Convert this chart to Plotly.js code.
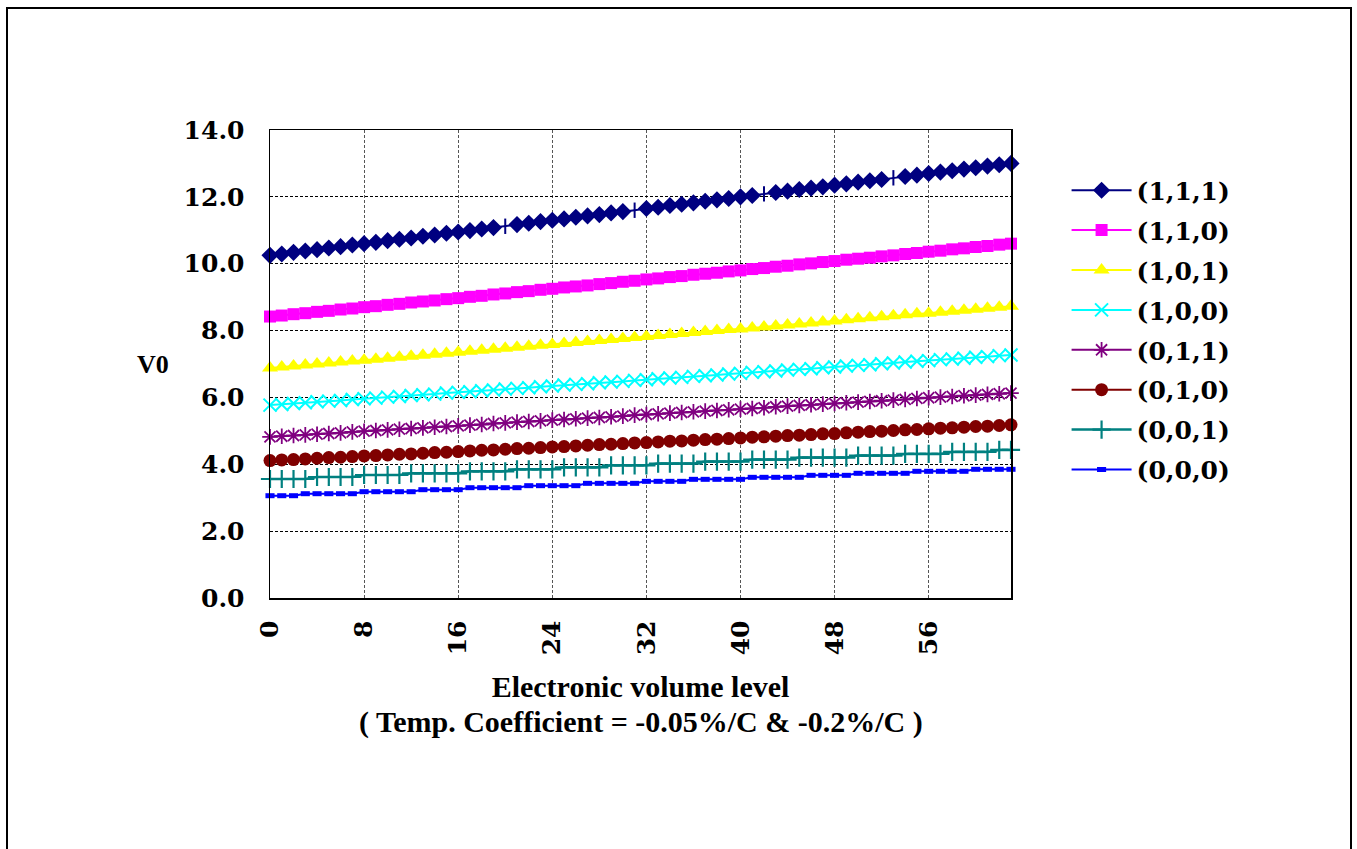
<!DOCTYPE html>
<html><head><meta charset="utf-8">
<script src="https://cdn.plot.ly/plotly-3.0.1.min.js"></script>
<style>
html,body{margin:0;padding:0;background:#fff;overflow:hidden;width:1357px;height:849px;}
#chart{position:absolute;left:0;top:0;width:1357px;height:849px;}
#frame{position:absolute;left:6px;top:7px;width:1342px;height:900px;border:2px solid #000;pointer-events:none;}
</style></head><body>
<div id="chart"></div><div id="frame"></div>
<script>
// Electronic volume level (categories)
const LEVELS = [0,1,2,3,4,5,6,7,8,9,10,11,12,13,14,15,16,17,18,19,20,21,22,23,24,25,26,27,28,29,30,31,
  32,33,34,35,36,37,38,39,40,41,42,43,44,45,46,47,48,49,50,51,52,53,54,55,56,57,58,59,60,61,62,63];

const X_TICKS = [0,8,16,24,32,40,48,56];
const Y_TICKS = [0,2,4,6,8,10,12,14];

// V0 values per (x,y,z) setting
const V_111 = [10.25,10.29,10.34,10.38,10.42,10.47,10.51,10.56,10.60,10.64,
  10.69,10.73,10.77,10.82,10.86,10.91,10.95,10.99,11.04,11.08,
  11.12,11.17,11.21,11.26,11.30,11.34,11.39,11.43,11.47,11.52,
  11.56,11.60,11.65,11.69,11.74,11.78,11.82,11.87,11.91,11.95,
  12.00,12.04,12.09,12.13,12.17,12.22,12.26,12.30,12.35,12.39,
  12.44,12.48,12.52,12.57,12.61,12.65,12.70,12.74,12.78,12.83,
  12.87,12.92,12.96,13.00];
const V_110 = [8.42,8.45,8.49,8.52,8.56,8.59,8.63,8.66,8.70,8.73,
  8.77,8.80,8.84,8.87,8.90,8.94,8.97,9.01,9.04,9.08,
  9.11,9.15,9.18,9.22,9.25,9.29,9.32,9.35,9.39,9.42,
  9.46,9.49,9.53,9.56,9.60,9.63,9.67,9.70,9.73,9.77,
  9.80,9.84,9.87,9.91,9.94,9.98,10.01,10.05,10.08,10.12,
  10.15,10.18,10.22,10.25,10.29,10.32,10.36,10.39,10.43,10.46,
  10.50,10.53,10.57,10.60];
const V_101 = [6.88,6.91,6.94,6.97,7.00,7.03,7.06,7.09,7.11,7.14,
  7.17,7.20,7.23,7.26,7.29,7.32,7.35,7.38,7.41,7.44,
  7.47,7.50,7.53,7.56,7.58,7.61,7.64,7.67,7.70,7.73,
  7.76,7.79,7.82,7.85,7.88,7.91,7.94,7.97,8.00,8.03,
  8.05,8.08,8.11,8.14,8.17,8.20,8.23,8.26,8.29,8.32,
  8.35,8.38,8.41,8.44,8.47,8.50,8.52,8.55,8.58,8.61,
  8.64,8.67,8.70,8.73];
const V_100 = [5.77,5.79,5.82,5.84,5.87,5.89,5.91,5.94,5.96,5.98,
  6.01,6.03,6.06,6.08,6.10,6.13,6.15,6.17,6.20,6.22,
  6.25,6.27,6.29,6.32,6.34,6.37,6.39,6.41,6.44,6.46,
  6.48,6.51,6.53,6.56,6.58,6.60,6.63,6.65,6.67,6.70,
  6.72,6.75,6.77,6.79,6.82,6.84,6.86,6.89,6.91,6.94,
  6.96,6.98,7.01,7.03,7.06,7.08,7.10,7.13,7.15,7.17,
  7.20,7.22,7.25,7.27];
const V_011 = [4.82,4.84,4.86,4.88,4.90,4.92,4.94,4.97,4.99,5.01,
  5.03,5.05,5.07,5.09,5.11,5.13,5.15,5.17,5.19,5.22,
  5.24,5.26,5.28,5.30,5.32,5.34,5.36,5.38,5.40,5.42,
  5.44,5.47,5.49,5.51,5.53,5.55,5.57,5.59,5.61,5.63,
  5.65,5.67,5.69,5.72,5.74,5.76,5.78,5.80,5.82,5.84,
  5.86,5.88,5.90,5.92,5.94,5.97,5.99,6.01,6.03,6.05,
  6.07,6.09,6.11,6.13];
const V_010 = [4.11,4.13,4.14,4.16,4.18,4.20,4.21,4.23,4.25,4.26,
  4.28,4.30,4.31,4.33,4.35,4.36,4.38,4.40,4.42,4.43,
  4.45,4.47,4.48,4.50,4.52,4.53,4.55,4.57,4.59,4.60,
  4.62,4.64,4.65,4.67,4.69,4.70,4.72,4.74,4.75,4.77,
  4.79,4.81,4.82,4.84,4.86,4.87,4.89,4.91,4.92,4.94,
  4.96,4.98,4.99,5.01,5.03,5.04,5.06,5.08,5.09,5.11,
  5.13,5.14,5.16,5.18];
const V_001 = [3.56,3.56,3.56,3.56, 3.62,3.62,3.62,3.62, 3.68,3.68,3.68,3.68,
  3.73,3.73,3.73,3.73,3.73, 3.79,3.79,3.79,3.79, 3.85,3.85,3.85,3.85,
  3.91,3.91,3.91,3.91, 3.97,3.97,3.97,3.97, 4.02,4.02,4.02,4.02,
  4.08,4.08,4.08,4.08, 4.14,4.14,4.14,4.14, 4.20,4.20,4.20,4.20,4.20,
  4.26,4.26,4.26,4.26, 4.31,4.31,4.31,4.31, 4.37,4.37,4.37,4.37, 4.43,4.43];
const V_000 = [3.06,3.06,3.06, 3.12,3.12,3.12,3.12,3.12, 3.18,3.18,3.18,3.18,3.18,
  3.24,3.24,3.24,3.24, 3.30,3.30,3.30,3.30,3.30, 3.36,3.36,3.36,3.36,3.36,
  3.43,3.43,3.43,3.43,3.43, 3.49,3.49,3.49,3.49, 3.55,3.55,3.55,3.55,3.55,
  3.61,3.61,3.61,3.61,3.61, 3.67,3.67,3.67,3.67, 3.73,3.73,3.73,3.73,3.73,
  3.79,3.79,3.79,3.79,3.79, 3.85,3.85,3.85,3.85];

const SERIES_NAMES = ['(1,1,1)','(1,1,0)','(1,0,1)','(1,0,0)','(0,1,1)','(0,1,0)','(0,0,1)','(0,0,0)'];
const SERIES_VALUES = [V_111, V_110, V_101, V_100, V_011, V_010, V_001, V_000];
// points of (1,1,1) drawn with a tick instead of a diamond in the original
const TICK_POINTS_111 = [20,31,42,53];

const X_TITLE = 'Electronic volume level';
const X_SUBTITLE = '( Temp. Coefficient = -0.05%/C &amp; -0.2%/C )';
const Y_TITLE = 'V0';

// styles
const STYLES = [
  {color:'#000080', symbol:'diamond', size:11, lw:0, width:2},
  {color:'#FF00FF', symbol:'square', size:12, lw:0, width:2},
  {color:'#FFFF00', symbol:'triangle-up', size:14, lw:0, width:2},
  {color:'#00FFFF', symbol:'x-thin-open', size:13, lw:2, width:2},
  {color:'#800080', symbol:'asterisk-open', size:13, lw:1.8, width:2},
  {color:'#800000', symbol:'circle', size:13, lw:0, width:2},
  {color:'#008080', symbol:'cross-thin-open', size:13, lw:2.2, width:2.5},
  {color:'#0000FF', symbol:'line-ew-open', size:6.5, lw:5, width:2}
];

const serif = 'DejaVu Serif, Liberation Serif, serif';
const traces = SERIES_NAMES.map((name, i) => {
  const st = STYLES[i];
  let symbol = st.symbol;
  if (i === 0) {
    symbol = LEVELS.map((_, k) => TICK_POINTS_111.includes(k) ? 'line-ns-open' : st.symbol);
  }
  return {
    type:'scatter', mode:'lines+markers', name:name,
    x: LEVELS, y: SERIES_VALUES[i],
    legendgroup:'g'+i,
    cliponaxis:false,
    line:{color:st.color, width:st.width},
    marker:{color:st.color, symbol:symbol, size:st.size, opacity:1,
      line:{color:st.color, width: i===0 ? 2 : st.lw}}
  };
});

const layout = {
  width:1357, height:849,
  margin:{l:270, r:346, t:130, b:251, pad:0},
  paper_bgcolor:'rgba(0,0,0,0)', plot_bgcolor:'#ffffff',
  showlegend:true,
  xaxis:{
    range:[0,63], tickmode:'array', tickvals:X_TICKS, ticktext:X_TICKS.map(String),
    tickangle:-90, ticks:'', ticklabelstandoff:11,
    showgrid:true, gridcolor:'#555555', gridwidth:1, griddash:'3px,2px',
    showline:true, linecolor:'#000', linewidth:1.5, mirror:true, zeroline:false,
    tickfont:{family:serif, size:25, color:'#000', weight:'bold'},
    title:{text:X_TITLE,
      font:{family:'Liberation Serif, serif', size:30, color:'#000', weight:'bold'}, standoff:21}
  },
  yaxis:{
    range:[0,14], tickmode:'array', tickvals:Y_TICKS, ticktext:Y_TICKS.map(v => v.toFixed(1)),
    ticks:'', ticklabelstandoff:19,
    showgrid:true, gridcolor:'#000000', gridwidth:1, griddash:'3px,2px',
    showline:true, linecolor:'#000', linewidth:1.5, mirror:true, zeroline:false,
    tickfont:{family:serif, size:25, color:'#000', weight:'bold'}
  },
  legend:{
    x:1.075, y:0.92, xanchor:'left', yanchor:'top',
    font:{family:serif, size:25, color:'#000', weight:'bold'},
    bgcolor:'rgba(0,0,0,0)', borderwidth:0,
    traceorder:'grouped', tracegroupgap:4.4, itemwidth:60
  },
  annotations:[{
    text:Y_TITLE, xref:'paper', yref:'paper', x:-0.158, y:0.5, xanchor:'center', yanchor:'middle',
    showarrow:false, font:{family:'Liberation Serif, serif', size:26, color:'#000', weight:'bold'}
  },{
    text:X_SUBTITLE, xref:'paper', yref:'paper', x:0.5, y:-0.265, xanchor:'center', yanchor:'middle',
    showarrow:false, font:{family:'Liberation Serif, serif', size:30, color:'#000', weight:'bold'}
  }]
};

Plotly.newPlot('chart', traces, layout, {displayModeBar:false, staticPlot:true});
</script>
</body></html>
